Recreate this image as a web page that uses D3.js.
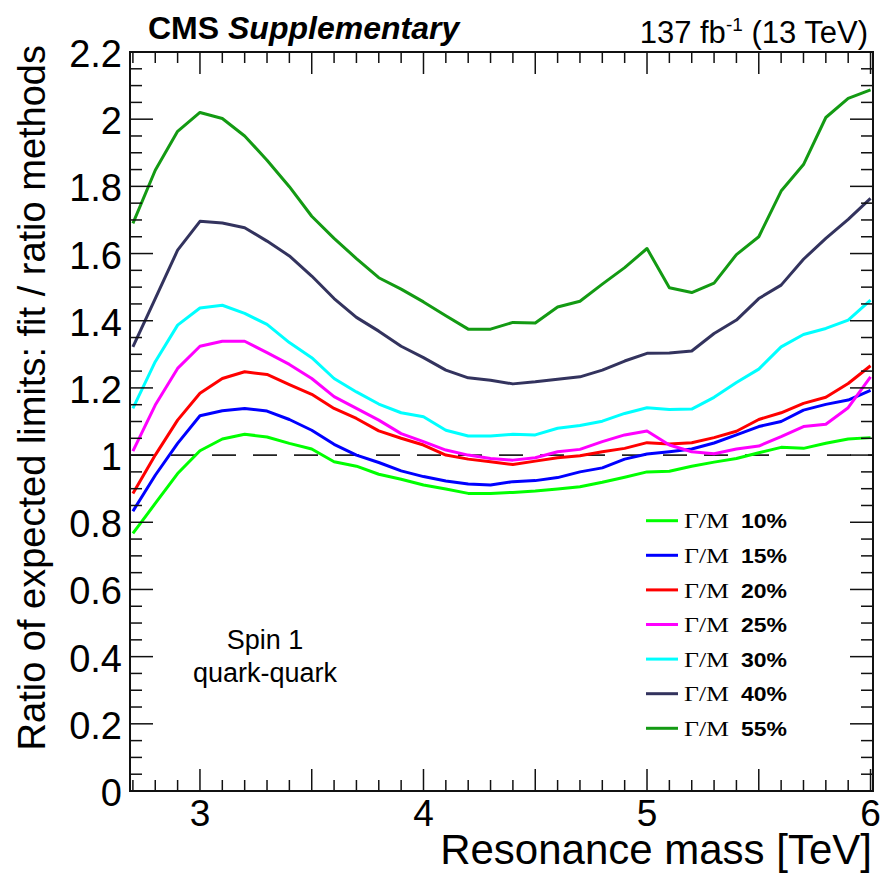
<!DOCTYPE html>
<html>
<head>
<meta charset="utf-8">
<script src="https://cdn.jsdelivr.net/npm/d3@7"></script>
<style>
  html, body { margin: 0; padding: 0; background: #ffffff; }
  svg { display: block; }
</style>
</head>
<body>
<div id="chart"></div>
<script>
// ---------------- data ----------------
const massTeV = [2.7, 2.8, 2.9, 3.0, 3.1, 3.2, 3.3, 3.4, 3.5, 3.6, 3.7, 3.8, 3.9, 4.0, 4.1, 4.2, 4.3, 4.4,
                 4.5, 4.6, 4.7, 4.8, 4.9, 5.0, 5.1, 5.2, 5.3, 5.4, 5.5, 5.6, 5.7, 5.8, 5.9, 6.0];

const ratioW10 = [0.767, 0.856, 0.945, 1.013, 1.048, 1.062, 1.054, 1.035, 1.018, 0.980, 0.967, 0.943, 0.928, 0.911, 0.899, 0.886, 0.886, 0.889,
                  0.893, 0.899, 0.906, 0.919, 0.934, 0.950, 0.952, 0.967, 0.979, 0.990, 1.007, 1.023, 1.020, 1.035, 1.048, 1.052];
const ratioW15 = [0.833, 0.940, 1.035, 1.117, 1.132, 1.139, 1.131, 1.106, 1.074, 1.032, 1.000, 0.978, 0.953, 0.936, 0.923, 0.914, 0.911, 0.921,
                  0.924, 0.933, 0.950, 0.962, 0.988, 1.003, 1.010, 1.018, 1.036, 1.060, 1.085, 1.100, 1.134, 1.151, 1.164, 1.193];
const ratioW20 = [0.886, 1.000, 1.104, 1.184, 1.228, 1.248, 1.240, 1.210, 1.181, 1.139, 1.109, 1.072, 1.050, 1.030, 1.000, 0.988, 0.980, 0.972,
                  0.982, 0.992, 0.998, 1.010, 1.020, 1.037, 1.033, 1.037, 1.052, 1.071, 1.106, 1.126, 1.154, 1.172, 1.213, 1.266];
const ratioW25 = [1.012, 1.149, 1.258, 1.324, 1.339, 1.339, 1.305, 1.270, 1.228, 1.174, 1.139, 1.104, 1.064, 1.040, 1.015, 1.000, 0.990, 0.985,
                  0.992, 1.010, 1.017, 1.040, 1.060, 1.072, 1.030, 1.010, 1.004, 1.018, 1.027, 1.055, 1.085, 1.092, 1.141, 1.233];
const ratioW30 = [1.139, 1.278, 1.387, 1.438, 1.446, 1.422, 1.389, 1.335, 1.290, 1.228, 1.188, 1.152, 1.126, 1.114, 1.074, 1.057, 1.057, 1.062,
                  1.060, 1.080, 1.088, 1.101, 1.124, 1.141, 1.136, 1.137, 1.172, 1.216, 1.256, 1.322, 1.359, 1.377, 1.402, 1.461];
const ratioW40 = [1.322, 1.466, 1.610, 1.696, 1.691, 1.677, 1.637, 1.593, 1.533, 1.466, 1.410, 1.369, 1.324, 1.290, 1.253, 1.230, 1.223, 1.212,
                  1.218, 1.226, 1.233, 1.253, 1.280, 1.303, 1.304, 1.310, 1.362, 1.402, 1.466, 1.506, 1.583, 1.645, 1.702, 1.764];
const ratioW55 = [1.690, 1.848, 1.964, 2.020, 2.002, 1.950, 1.878, 1.799, 1.711, 1.645, 1.585, 1.528, 1.494, 1.456, 1.415, 1.375, 1.375, 1.395,
                  1.393, 1.441, 1.458, 1.509, 1.558, 1.615, 1.498, 1.484, 1.512, 1.597, 1.650, 1.786, 1.865, 2.005, 2.062, 2.087];

const widthLabels = ["10%", "15%", "20%", "25%", "30%", "40%", "55%"];
const seriesColors = ["#00ff00", "#0000ff", "#ff0000", "#ff00ff", "#00ffff", "#33335e", "#139a13"];
const seriesValues = [ratioW10, ratioW15, ratioW20, ratioW25, ratioW30, ratioW40, ratioW55];

const xMajorTicks = [3, 3.5, 4, 4.5, 5, 5.5, 6];
const xTickLabels = [3, 4, 5, 6];
const yMajorTicks = [0, 0.2, 0.4, 0.6, 0.8, 1, 1.2, 1.4, 1.6, 1.8, 2, 2.2];

// ---------------- layout ----------------
const W = 882, H = 873;
const L = 130, R = 873, T = 52, B = 791;
const sans = "'Liberation Sans', Arial, Helvetica, sans-serif";
const serif = "'Liberation Serif', 'Times New Roman', serif";

const svg = d3.select("#chart").append("svg")
  .attr("width", W).attr("height", H)
  .attr("viewBox", `0 0 ${W} ${H}`);
svg.append("rect").attr("width", W).attr("height", H).attr("fill", "#ffffff");

const x = d3.scaleLinear().domain([2.687, 6.011]).range([L, R]);
const y = d3.scaleLinear().domain([0, 2.2]).range([B, T]);

// reference line at 1
svg.append("line")
  .attr("x1", L).attr("x2", R).attr("y1", y(1)).attr("y2", y(1))
  .attr("stroke", "#222").attr("stroke-width", 1.6)
  .attr("stroke-dasharray", "24,17");

// curves
const plot = svg.append("g");
const line = d3.line().x(d => x(d[0])).y(d => y(d[1]));
seriesValues.forEach((vals, i) => {
  const pts = massTeV.map((m, j) => [m, vals[j]]);
  plot.append("path")
    .attr("d", line(pts))
    .attr("fill", "none")
    .attr("stroke", seriesColors[i])
    .attr("stroke-width", 3)
    .attr("stroke-linejoin", "round");
});

// frame
svg.append("rect")
  .attr("x", L).attr("y", T).attr("width", R - L).attr("height", B - T)
  .attr("fill", "none").attr("stroke", "#111").attr("stroke-width", 2);

// ticks
const tk = svg.append("g").attr("stroke", "#111").attr("stroke-width", 1.5);
const xMinor = d3.range(27, 61).map(v => v / 10);
xMinor.forEach(v => {
  const len = xMajorTicks.some(t => Math.abs(t - v) < 1e-6) ? 22 : 11;
  tk.append("line").attr("x1", x(v)).attr("x2", x(v)).attr("y1", B).attr("y2", B - len);
  tk.append("line").attr("x1", x(v)).attr("x2", x(v)).attr("y1", T).attr("y2", T + len);
});
const yMinor = d3.range(0, 45).map(v => v * 0.05);
yMinor.forEach(v => {
  const len = yMajorTicks.some(t => Math.abs(t - v) < 1e-6) ? 23 : 12;
  tk.append("line").attr("x1", L).attr("x2", L + len).attr("y1", y(v)).attr("y2", y(v));
  tk.append("line").attr("x1", R).attr("x2", R - len).attr("y1", y(v)).attr("y2", y(v));
});

// tick labels
const fmt = d3.format("~g");
svg.append("g").selectAll("text").data(xTickLabels).join("text")
  .attr("x", d => x(d)).attr("y", 826)
  .attr("text-anchor", "middle")
  .attr("font-family", sans).attr("font-size", 37).attr("fill", "#000")
  .text(d => fmt(d));
svg.append("g").selectAll("text").data(yMajorTicks).join("text")
  .attr("x", 122).attr("y", d => y(d) + 15)
  .attr("text-anchor", "end")
  .attr("font-family", sans).attr("font-size", 38).attr("fill", "#000")
  .text(d => fmt(d));

// axis titles
svg.append("text")
  .attr("x", 872).attr("y", 864)
  .attr("text-anchor", "end")
  .attr("font-family", sans).attr("font-size", 42).attr("fill", "#000")
  .text("Resonance mass [TeV]");
svg.append("text")
  .attr("transform", "translate(45,45) rotate(-90)")
  .attr("text-anchor", "end")
  .attr("font-family", sans).attr("font-size", 38).attr("fill", "#000")
  .text("Ratio of expected limits: fit / ratio methods");

// header
const cms = svg.append("text")
  .attr("x", 148).attr("y", 39)
  .attr("font-family", sans).attr("font-size", 32).attr("fill", "#000");
cms.append("tspan").attr("font-weight", "bold").text("CMS ");
cms.append("tspan").attr("font-weight", "bold").attr("font-style", "italic").text("Supplementary");

const lumi = svg.append("text")
  .attr("x", 868).attr("y", 43)
  .attr("text-anchor", "end")
  .attr("font-family", sans).attr("font-size", 31).attr("fill", "#000");
lumi.append("tspan").text("137 fb");
lumi.append("tspan").attr("font-size", 19).attr("dy", -12).text("-1");
lumi.append("tspan").attr("dy", 12).text(" (13 TeV)");

// annotation
svg.append("text")
  .attr("x", 265).attr("y", 649)
  .attr("text-anchor", "middle")
  .attr("font-family", sans).attr("font-size", 27).attr("fill", "#000")
  .text("Spin 1");
svg.append("text")
  .attr("x", 265).attr("y", 682)
  .attr("text-anchor", "middle")
  .attr("font-family", sans).attr("font-size", 27).attr("fill", "#000")
  .text("quark-quark");

// legend
const lg = svg.append("g");
widthLabels.forEach((lab, i) => {
  const ry = 520.7 + i * 34.6;
  lg.append("line")
    .attr("x1", 646).attr("x2", 678).attr("y1", ry).attr("y2", ry)
    .attr("stroke", seriesColors[i]).attr("stroke-width", 3);
  lg.append("text")
    .attr("x", 684).attr("y", ry + 7.7)
    .attr("font-family", serif).attr("font-size", 21).attr("fill", "#000")
    .attr("textLength", 45).attr("lengthAdjust", "spacingAndGlyphs")
    .text("\u0393/M");
  lg.append("text")
    .attr("x", 741).attr("y", ry + 7.7)
    .attr("font-family", sans).attr("font-weight", "bold").attr("font-size", 20).attr("fill", "#000")
    .attr("textLength", 46).attr("lengthAdjust", "spacingAndGlyphs")
    .text(lab);
});
</script>
</body>
</html>
